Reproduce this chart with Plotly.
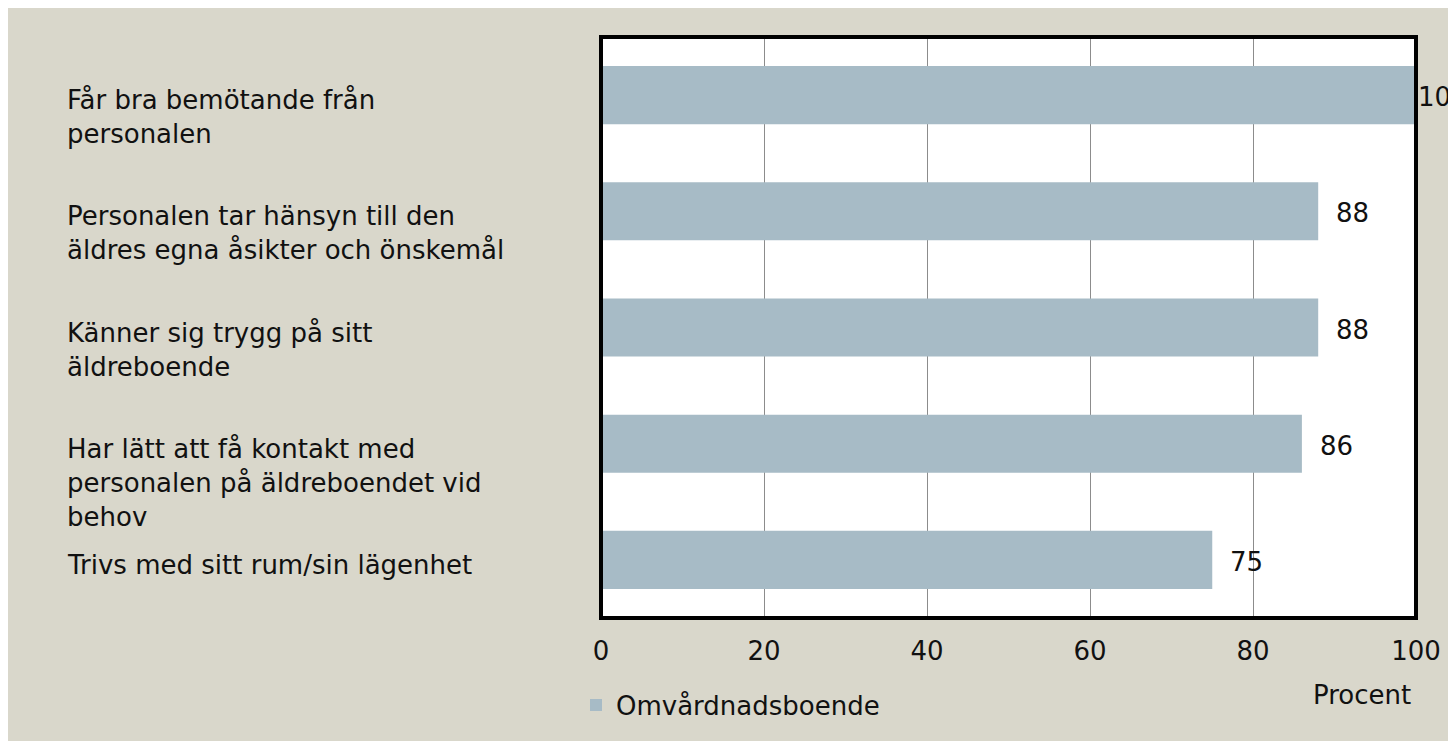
import plotly.graph_objects as go

# ---- data ----
categories = [
    "Får bra bemötande från<br>personalen",
    "Personalen tar hänsyn till den<br>äldres egna åsikter och önskemål",
    "Känner sig trygg på sitt<br>äldreboende",
    "Har lätt att få kontakt med<br>personalen på äldreboendet vid<br>behov",
    "Trivs med sitt rum/sin lägenhet",
]
values = [100, 88, 88, 86, 75]
series_name = "Omvårdnadsboende"
x_ticks = [0, 20, 40, 60, 80, 100]
x_title = "Procent"

# ---- style ----
W, H = 1456, 741
ML, MR, MT, MB = 593, 48, 29, 131
PW, PH = W - ML - MR, H - MT - MB
BG = "#d9d7cb"
BAR = "#a7bbc6"
FONT = "DejaVu Sans"
FS = 26
TXT = "#111111"

def px_x(p):
    return (p - ML) / PW

def px_y(p):
    return (MT + PH - p) / PH

fig = go.Figure()
fig.add_trace(go.Bar(
    x=values, y=categories, orientation="h",
    marker=dict(color=BAR, line=dict(width=0)),
    name=series_name, showlegend=True, hoverinfo="x+y",
))

annotations = []
# category labels, left aligned
for c in categories:
    annotations.append(dict(
        x=px_x(57), xref="paper", y=c, yref="y",
        text=c, showarrow=False, xanchor="left", yanchor="top",
        align="left", yshift=12,
        font=dict(family=FONT, size=FS, color=TXT),
    ))
# value labels
for c, v in zip(categories, values):
    annotations.append(dict(
        x=v, xref="x", y=c, yref="y", text=str(v), showarrow=False,
        xanchor="left", yanchor="middle",
        xshift=(16 if v < x_ticks[-1] else 0), yshift=-2,
        font=dict(family=FONT, size=FS, color=TXT),
    ))
annotations.append(dict(
    x=px_x(1354), xref="paper", y=px_y(687), yref="paper", text=x_title,
    showarrow=False, xanchor="center", yanchor="middle",
    font=dict(family=FONT, size=FS, color=TXT),
))

shapes = [
    # plot border
    dict(type="rect", xref="paper", yref="paper", x0=0, x1=1, y0=0, y1=1,
         line=dict(color="black", width=4), fillcolor="rgba(0,0,0,0)", layer="above"),
]

fig.update_layout(
    width=W, height=H,
    margin=dict(l=ML, r=MR, t=MT, b=MB, pad=0),
    paper_bgcolor=BG, plot_bgcolor="white",
    bargap=0.5,
    font=dict(family=FONT, size=FS, color=TXT),
    xaxis=dict(range=[0, 100], tickvals=x_ticks, showgrid=True,
               gridcolor="#8c8c8c", gridwidth=1, zeroline=False,
               showline=False, ticks="", ticklabelstandoff=15,
               tickfont=dict(family=FONT, size=FS, color=TXT), fixedrange=True),
    yaxis=dict(categoryorder="array", categoryarray=categories,
               autorange="reversed", showticklabels=False, showgrid=False,
               zeroline=False, showline=False, ticks="", fixedrange=True),
    showlegend=True,
    legend=dict(orientation="h", x=px_x(568), xanchor="left",
                y=px_y(697), yanchor="middle", bgcolor="rgba(0,0,0,0)",
                font=dict(family=FONT, size=FS, color=TXT)),
    annotations=annotations,
    shapes=shapes,
)

fig.write_html("out.html")
